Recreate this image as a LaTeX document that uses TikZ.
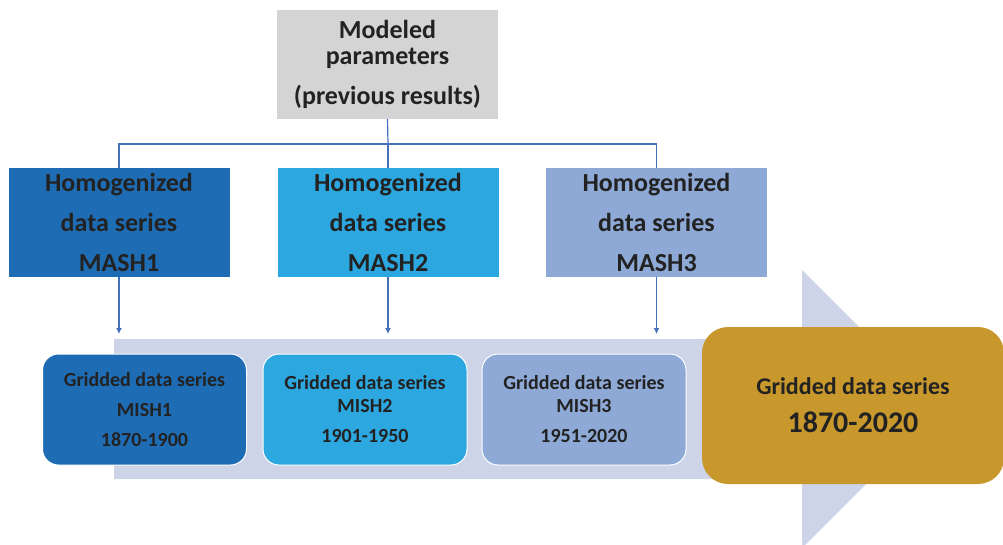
\documentclass[tikz,border=0pt]{standalone}
\usepackage{fontspec}
\setmainfont{Carlito}
\usetikzlibrary{arrows.meta}
\definecolor{cgray}{HTML}{D4D4D4}
\definecolor{cdark}{HTML}{1E6DB4}
\definecolor{cmid}{HTML}{2DA7DF}
\definecolor{clight}{HTML}{8EA9D6}
\definecolor{cband}{HTML}{CDD4E8}
\definecolor{cgold}{HTML}{C8982C}
\definecolor{cline}{HTML}{4670BC}
\definecolor{ctext}{HTML}{222222}
\tikzset{
  hbox/.style={rectangle, minimum width=221pt, minimum height=109pt, inner sep=0pt, align=center, text=ctext, font=\fontsize{26}{40}\selectfont\bfseries},
  gbox/.style={rectangle, rounded corners=16pt, draw=white, line width=1pt, minimum width=204pt, minimum height=111pt, inner sep=0pt, align=center, text=ctext, font=\fontsize{20}{30}\selectfont\bfseries},
  conn/.style={draw=cline, line width=1.2pt},
  carr/.style={conn, -{Latex[length=6pt,width=6pt]}}
}
\begin{document}
\begin{tikzpicture}[x=1pt,y=-1pt]
\useasboundingbox (0,0) rectangle (1003,544);
% big arrow band
\fill[cband] (114,339) -- (802,339) -- (802,270) -- (941,409) -- (802,548) -- (802,479) -- (114,479) -- cycle;
% top box
\node[hbox, fill=cgray, font=\fontsize{26}{26}\selectfont\bfseries] (mp) at (387.5,64.5) {Modeled\\parameters\\[14pt](previous results)};
% homogenized boxes
\node[hbox, fill=cdark] (h1) at (119,222.5) {Homogenized\\data series\\MASH1};
\node[hbox, fill=cmid] (h2) at (388,222.5) {Homogenized\\data series\\MASH2};
\node[hbox, fill=clight] (h3) at (656.5,222.5) {Homogenized\\data series\\MASH3};
% gridded boxes
\node[gbox, fill=cdark] (g1) at (144.5,409.5) {Gridded data series\\MISH1\\1870-1900};
\node[gbox, fill=cmid, font=\fontsize{20}{23}\selectfont\bfseries] (g2) at (365,409.5) {Gridded data series\\MISH2\\[7pt]1901-1950};
\node[gbox, fill=clight, font=\fontsize{20}{23}\selectfont\bfseries] (g3) at (584,409.5) {Gridded data series\\MISH3\\[7pt]1951-2020};
\node[rectangle, rounded corners=26pt, fill=cgold, minimum width=302pt, minimum height=157pt, inner sep=0pt, align=center, text=ctext] (gall) at (853,405.5) {{\fontsize{24}{24}\selectfont\bfseries Gridded data series}\\[16pt]{\fontsize{30}{30}\selectfont\bfseries 1870-2020}};
% connectors
\coordinate (j) at (388,144);
\coordinate (lvl) at (0,334);
\draw[conn] (mp.south) -- (j);
\draw[conn] (j) -| (h1.north);
\draw[conn] (j) -| (h3.north);
\draw[conn] (j) -- (h2.north);
\draw[carr] (h1.south) -- (h1.south |- lvl);
\draw[carr] (h2.south) -- (h2.south |- lvl);
\draw[carr] (h3.south) -- (h3.south |- lvl);
\end{tikzpicture}
\end{document}
